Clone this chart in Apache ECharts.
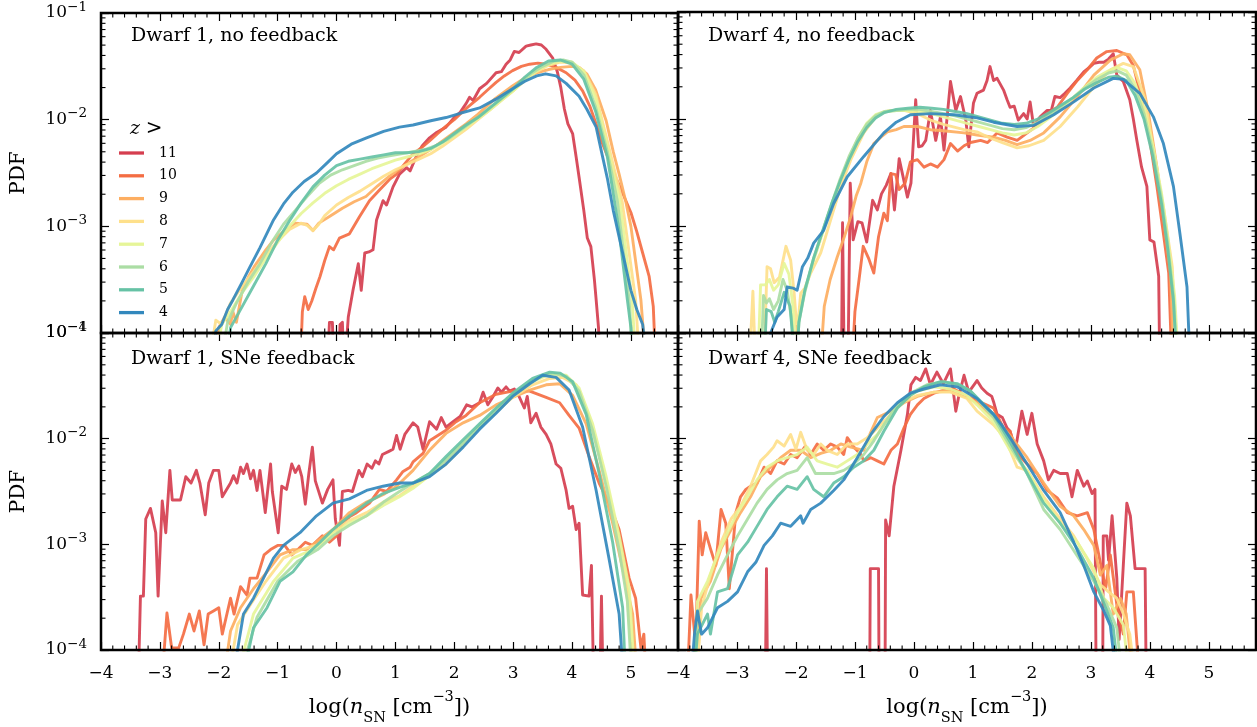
<!DOCTYPE html>
<html><head><meta charset="utf-8">
<script src="https://cdn.jsdelivr.net/npm/echarts@6/dist/echarts.min.js"></script>
<style>html,body{margin:0;padding:0;background:#fff}#c{width:1257px;height:727px}</style>
</head><body><div id="c"></div>
<script>
// ---------- data: each series is a list of [log10(n_SN), log10(PDF)] ----------
const redshiftLabels = ['11','10','9','8','7','6','5','4'];
const panelTitles = ['Dwarf 1, no feedback','Dwarf 4, no feedback','Dwarf 1, SNe feedback','Dwarf 4, SNe feedback'];
const xRange = [-4, 5.8];
const yRange = [1e-4, 1e-1];

// Dwarf 1, no feedback
const d1nf_z11 = [[-0.16,-4.4],[-0.12,-3.9],[-0.07,-3.9],[-0.04,-4.4],[0.03,-4.4],[0.06,-3.92],[0.1,-3.9],[0.13,-4.4],[0.2,-3.85],[0.28,-3.6],[0.37,-3.35],[0.42,-3.6],[0.48,-3.25],[0.55,-3.24],[0.62,-3.22],[0.68,-2.94],[0.79,-2.76],[0.85,-2.8],[0.96,-2.63],[1.07,-2.51],[1.19,-2.45],[1.25,-2.48],[1.35,-2.35],[1.45,-2.25],[1.58,-2.17],[1.7,-2.12],[1.86,-2.07],[2.0,-1.98],[2.1,-1.93],[2.2,-1.85],[2.26,-1.79],[2.32,-1.82],[2.43,-1.71],[2.55,-1.66],[2.71,-1.56],[2.8,-1.55],[2.88,-1.48],[2.95,-1.44],[3.02,-1.36],[3.1,-1.37],[3.22,-1.31],[3.3,-1.3],[3.39,-1.29],[3.48,-1.3],[3.56,-1.34],[3.67,-1.42],[3.75,-1.55],[3.81,-1.7],[3.87,-1.9],[3.93,-2.04],[4.01,-2.13],[4.07,-2.35],[4.12,-2.54],[4.2,-2.85],[4.26,-3.11],[4.32,-3.19],[4.38,-3.5],[4.41,-3.69],[4.45,-3.95],[4.48,-4.4]];
const d1nf_z10 = [[-0.62,-4.4],[-0.58,-3.8],[-0.54,-3.66],[-0.48,-3.78],[-0.42,-3.7],[-0.35,-3.58],[-0.28,-3.47],[-0.2,-3.32],[-0.12,-3.19],[-0.05,-3.22],[0.05,-3.11],[0.22,-3.07],[0.39,-2.91],[0.56,-2.76],[0.73,-2.66],[0.9,-2.56],[1.02,-2.51],[1.15,-2.42],[1.3,-2.32],[1.45,-2.26],[1.58,-2.2],[1.72,-2.13],[1.86,-2.06],[2.0,-2.0],[2.15,-1.92],[2.3,-1.85],[2.43,-1.79],[2.57,-1.72],[2.71,-1.65],[2.85,-1.59],[2.99,-1.54],[3.14,-1.5],[3.28,-1.48],[3.42,-1.47],[3.56,-1.48],[3.73,-1.51],[3.9,-1.56],[4.05,-1.63],[4.18,-1.73],[4.3,-1.87],[4.41,-2.04],[4.5,-2.2],[4.63,-2.38],[4.75,-2.55],[4.86,-2.69],[5.0,-2.87],[5.1,-3.05],[5.2,-3.25],[5.31,-3.47],[5.38,-3.75],[5.43,-4.4]];
const d1nf_z9 = [[-2.12,-4.4],[-2.0,-3.95],[-1.9,-3.85],[-1.8,-3.92],[-1.76,-3.8],[-1.7,-3.9],[-1.6,-3.6],[-1.5,-3.48],[-1.4,-3.38],[-1.3,-3.3],[-1.2,-3.22],[-1.07,-3.13],[-0.9,-3.05],[-0.7,-2.97],[-0.5,-2.98],[-0.4,-3.04],[-0.3,-2.97],[-0.1,-2.9],[0.1,-2.83],[0.3,-2.77],[0.5,-2.72],[0.7,-2.62],[0.9,-2.53],[1.1,-2.45],[1.3,-2.38],[1.6,-2.28],[1.9,-2.16],[2.2,-2.04],[2.4,-1.95],[2.7,-1.8],[3.0,-1.68],[3.2,-1.61],[3.4,-1.56],[3.6,-1.53],[3.8,-1.51],[4.0,-1.5],[4.12,-1.51],[4.25,-1.57],[4.4,-1.72],[4.58,-2.01],[4.7,-2.3],[4.8,-2.51],[4.91,-2.76],[5.0,-3.0],[5.17,-3.69],[5.27,-4.4]];
const d1nf_z8 = [[-2.2,-4.4],[-2.05,-3.88],[-1.95,-3.92],[-1.8,-3.72],[-1.6,-3.56],[-1.4,-3.42],[-1.2,-3.27],[-1.0,-3.14],[-0.8,-3.03],[-0.6,-2.97],[-0.5,-2.99],[-0.4,-3.04],[-0.3,-2.98],[-0.2,-2.9],[0.0,-2.8],[0.2,-2.73],[0.4,-2.67],[0.6,-2.6],[0.8,-2.53],[1.0,-2.47],[1.2,-2.42],[1.4,-2.37],[1.6,-2.32],[1.8,-2.25],[2.0,-2.17],[2.2,-2.09],[2.4,-2.0],[2.6,-1.91],[2.8,-1.82],[3.0,-1.73],[3.2,-1.63],[3.4,-1.55],[3.6,-1.49],[3.8,-1.46],[4.0,-1.47],[4.2,-1.54],[4.4,-1.76],[4.6,-2.2],[4.85,-2.76],[5.08,-3.69],[5.16,-4.4]];
const d1nf_z7 = [[-2.1,-4.4],[-1.95,-3.92],[-1.8,-3.8],[-1.6,-3.62],[-1.4,-3.47],[-1.2,-3.3],[-1.0,-3.15],[-0.8,-3.0],[-0.6,-2.88],[-0.4,-2.78],[-0.2,-2.69],[0.0,-2.62],[0.2,-2.56],[0.4,-2.51],[0.6,-2.46],[0.8,-2.42],[1.0,-2.38],[1.2,-2.35],[1.4,-2.32],[1.6,-2.28],[1.8,-2.22],[2.0,-2.15],[2.2,-2.07],[2.4,-1.99],[2.6,-1.91],[2.8,-1.82],[3.0,-1.73],[3.2,-1.63],[3.4,-1.54],[3.6,-1.48],[3.8,-1.45],[4.0,-1.46],[4.2,-1.55],[4.4,-1.8],[4.6,-2.25],[4.81,-2.76],[5.02,-3.69],[5.1,-4.4]];
const d1nf_z6 = [[-2.0,-4.4],[-1.85,-3.9],[-1.7,-3.72],[-1.5,-3.52],[-1.3,-3.35],[-1.1,-3.15],[-0.9,-2.98],[-0.7,-2.85],[-0.5,-2.72],[-0.3,-2.6],[-0.1,-2.52],[0.1,-2.47],[0.3,-2.43],[0.5,-2.39],[0.7,-2.36],[0.9,-2.34],[1.1,-2.32],[1.3,-2.3],[1.5,-2.28],[1.7,-2.24],[1.9,-2.18],[2.1,-2.1],[2.3,-2.02],[2.5,-1.94],[2.7,-1.85],[2.9,-1.76],[3.1,-1.67],[3.3,-1.57],[3.5,-1.5],[3.7,-1.45],[3.85,-1.44],[4.0,-1.46],[4.2,-1.58],[4.4,-1.88],[4.6,-2.3],[4.77,-2.76],[4.97,-3.69],[5.05,-4.4]];
const d1nf_z5 = [[-1.9,-4.4],[-1.8,-3.95],[-1.6,-3.75],[-1.4,-3.55],[-1.2,-3.35],[-1.0,-3.13],[-0.8,-2.95],[-0.6,-2.78],[-0.4,-2.63],[-0.2,-2.52],[0.0,-2.43],[0.2,-2.39],[0.4,-2.37],[0.6,-2.35],[0.8,-2.33],[1.0,-2.31],[1.2,-2.31],[1.4,-2.3],[1.6,-2.27],[1.8,-2.21],[2.0,-2.13],[2.2,-2.05],[2.4,-1.98],[2.6,-1.89],[2.8,-1.8],[3.0,-1.71],[3.2,-1.6],[3.4,-1.51],[3.6,-1.45],[3.8,-1.44],[4.0,-1.48],[4.2,-1.62],[4.4,-1.92],[4.6,-2.35],[4.72,-2.76],[4.8,-3.05],[4.94,-3.69],[5.0,-3.95],[5.05,-4.4]];
const d1nf_z4 = [[-2.12,-4.4],[-2.05,-3.98],[-1.95,-3.92],[-1.85,-3.78],[-1.76,-3.69],[-1.6,-3.52],[-1.47,-3.38],[-1.3,-3.2],[-1.07,-2.94],[-0.9,-2.79],[-0.74,-2.68],[-0.55,-2.58],[-0.34,-2.5],[-0.15,-2.4],[0.0,-2.32],[0.25,-2.23],[0.51,-2.17],[0.8,-2.11],[1.07,-2.07],[1.3,-2.05],[1.6,-2.01],[1.86,-1.98],[2.1,-1.94],[2.43,-1.89],[2.7,-1.81],[2.99,-1.71],[3.2,-1.64],[3.4,-1.59],[3.55,-1.57],[3.73,-1.59],[3.9,-1.66],[4.12,-1.78],[4.25,-1.9],[4.41,-2.07],[4.5,-2.3],[4.6,-2.55],[4.7,-2.85],[4.8,-3.1],[4.9,-3.35],[5.0,-3.6],[5.1,-3.78],[5.2,-3.92],[5.3,-4.4]];

// Dwarf 4, no feedback
const d4nf_z11 = [[-1.23,-4.4],[-1.21,-2.97],[-1.18,-4.4],[-1.12,-4.4],[-1.08,-2.6],[-1.03,-3.13],[-0.95,-2.96],[-0.88,-2.97],[-0.8,-3.15],[-0.7,-2.76],[-0.62,-2.85],[-0.55,-2.7],[-0.47,-2.62],[-0.39,-2.51],[-0.33,-2.85],[-0.25,-2.37],[-0.18,-2.55],[-0.11,-2.73],[-0.05,-2.6],[0.03,-1.82],[0.08,-2.26],[0.14,-2.25],[0.2,-2.2],[0.28,-1.92],[0.37,-2.2],[0.45,-1.98],[0.51,-2.29],[0.62,-1.65],[0.71,-1.92],[0.79,-1.79],[0.88,-2.01],[0.93,-2.26],[1.01,-1.85],[1.07,-1.76],[1.18,-1.73],[1.24,-1.64],[1.29,-1.51],[1.35,-1.64],[1.41,-1.62],[1.52,-1.73],[1.58,-1.82],[1.63,-1.89],[1.7,-1.88],[1.77,-2.01],[1.86,-1.95],[1.92,-2.0],[1.97,-1.84],[2.03,-2.07],[2.14,-1.98],[2.26,-1.92],[2.33,-1.92],[2.39,-1.79],[2.48,-1.8],[2.56,-1.76],[2.65,-1.71],[2.76,-1.64],[2.88,-1.56],[2.97,-1.52],[3.05,-1.48],[3.14,-1.47],[3.22,-1.47],[3.3,-1.44],[3.38,-1.39],[3.44,-1.59],[3.55,-1.65],[3.66,-1.82],[3.72,-2.0],[3.78,-2.2],[3.86,-2.45],[3.95,-2.63],[4.0,-3.13],[4.07,-3.15],[4.15,-3.47],[4.17,-4.4]];
const d4nf_z10 = [[-1.06,-4.4],[-1.0,-3.8],[-0.93,-3.5],[-0.86,-3.19],[-0.77,-3.3],[-0.68,-3.44],[-0.6,-3.1],[-0.51,-2.88],[-0.45,-2.95],[-0.39,-2.51],[-0.31,-2.52],[-0.25,-2.66],[-0.15,-2.6],[-0.06,-2.4],[0.06,-2.38],[0.17,-2.45],[0.28,-2.42],[0.4,-2.45],[0.51,-2.38],[0.62,-2.23],[0.74,-2.3],[0.85,-2.25],[0.96,-2.22],[1.13,-2.2],[1.25,-2.22],[1.41,-2.13],[1.58,-2.17],[1.75,-2.2],[1.92,-2.13],[2.14,-2.04],[2.26,-1.95],[2.43,-1.89],[2.6,-1.76],[2.77,-1.64],[2.94,-1.54],[3.1,-1.43],[3.27,-1.37],[3.44,-1.36],[3.61,-1.4],[3.72,-1.5],[3.86,-1.82],[4.0,-2.2],[4.12,-2.63],[4.23,-3.07],[4.32,-3.44],[4.38,-4.4]];
const d4nf_z9 = [[-1.6,-4.4],[-1.52,-3.75],[-1.42,-3.5],[-1.3,-3.29],[-1.18,-3.1],[-1.07,-2.91],[-0.98,-2.72],[-0.9,-2.6],[-0.8,-2.4],[-0.68,-2.23],[-0.56,-2.17],[-0.45,-2.12],[-0.3,-2.1],[-0.17,-2.07],[0.06,-2.07],[0.28,-2.1],[0.5,-2.11],[0.85,-2.13],[1.07,-2.15],[1.35,-2.17],[1.55,-2.2],[1.75,-2.24],[1.97,-2.2],[2.2,-2.13],[2.48,-1.98],[2.77,-1.79],[3.05,-1.59],[3.33,-1.45],[3.55,-1.39],[3.66,-1.4],[3.83,-1.54],[3.97,-1.92],[4.12,-2.45],[4.23,-2.91],[4.35,-3.44],[4.41,-4.4]];
const d4nf_z8 = [[-2.8,-4.4],[-2.73,-3.61],[-2.68,-4.4],[-2.55,-4.4],[-2.49,-3.38],[-2.43,-3.4],[-2.37,-3.53],[-2.28,-3.48],[-2.17,-3.19],[-2.09,-3.32],[-2.03,-3.63],[-1.98,-4.0],[-1.92,-3.63],[-1.85,-3.58],[-1.75,-3.44],[-1.58,-3.25],[-1.41,-2.94],[-1.24,-2.63],[-1.07,-2.38],[-0.85,-2.13],[-0.62,-1.96],[-0.4,-1.92],[-0.17,-1.92],[0.06,-1.95],[0.28,-2.01],[0.5,-2.05],[0.85,-2.1],[1.07,-2.12],[1.3,-2.18],[1.5,-2.22],[1.75,-2.27],[1.95,-2.25],[2.2,-2.2],[2.48,-2.07],[2.77,-1.89],[3.05,-1.7],[3.33,-1.54],[3.55,-1.48],[3.72,-1.51],[3.92,-1.82],[4.06,-2.29],[4.23,-2.82],[4.38,-3.38],[4.47,-4.4]];
const d4nf_z7 = [[-2.65,-4.4],[-2.6,-3.55],[-2.52,-3.55],[-2.45,-3.5],[-2.38,-3.6],[-2.3,-3.55],[-2.2,-3.35],[-2.12,-3.45],[-2.05,-3.75],[-2.0,-4.4],[-1.95,-3.85],[-1.85,-3.6],[-1.7,-3.32],[-1.55,-3.07],[-1.4,-2.82],[-1.25,-2.58],[-1.1,-2.36],[-0.95,-2.18],[-0.8,-2.04],[-0.65,-1.96],[-0.5,-1.93],[-0.3,-1.92],[-0.1,-1.92],[0.1,-1.93],[0.3,-1.95],[0.5,-1.98],[0.7,-2.01],[0.9,-2.04],[1.1,-2.07],[1.3,-2.1],[1.5,-2.13],[1.7,-2.15],[1.9,-2.13],[2.1,-2.07],[2.3,-1.99],[2.5,-1.9],[2.7,-1.8],[2.9,-1.7],[3.1,-1.61],[3.3,-1.55],[3.45,-1.52],[3.6,-1.55],[3.75,-1.67],[3.9,-1.9],[4.05,-2.25],[4.2,-2.7],[4.3,-3.1],[4.42,-3.65],[4.5,-4.4]];
const d4nf_z6 = [[-2.6,-4.4],[-2.55,-3.65],[-2.5,-3.72],[-2.45,-3.68],[-2.38,-3.78],[-2.3,-3.7],[-2.22,-3.5],[-2.15,-3.6],[-2.08,-3.85],[-2.0,-4.4],[-1.95,-3.9],[-1.85,-3.62],[-1.7,-3.3],[-1.55,-3.05],[-1.4,-2.8],[-1.25,-2.56],[-1.1,-2.35],[-0.95,-2.18],[-0.8,-2.05],[-0.65,-1.97],[-0.5,-1.93],[-0.3,-1.92],[-0.1,-1.91],[0.1,-1.91],[0.3,-1.93],[0.5,-1.95],[0.7,-1.97],[0.9,-2.0],[1.1,-2.03],[1.3,-2.06],[1.5,-2.09],[1.7,-2.1],[1.9,-2.08],[2.1,-2.03],[2.3,-1.96],[2.5,-1.88],[2.7,-1.8],[2.9,-1.71],[3.1,-1.63],[3.3,-1.57],[3.45,-1.55],[3.6,-1.59],[3.75,-1.72],[3.9,-1.95],[4.05,-2.3],[4.2,-2.75],[4.3,-3.15],[4.4,-3.65],[4.48,-4.4]];
const d4nf_z5 = [[-2.55,-4.4],[-2.5,-3.78],[-2.42,-3.8],[-2.36,-3.9],[-2.3,-3.8],[-2.2,-3.62],[-2.1,-3.75],[-2.0,-4.4],[-1.95,-3.9],[-1.85,-3.6],[-1.7,-3.3],[-1.55,-3.05],[-1.4,-2.8],[-1.25,-2.58],[-1.1,-2.38],[-0.95,-2.21],[-0.8,-2.08],[-0.65,-1.99],[-0.5,-1.94],[-0.3,-1.91],[-0.1,-1.9],[0.1,-1.89],[0.3,-1.9],[0.5,-1.91],[0.7,-1.93],[0.9,-1.95],[1.1,-1.98],[1.3,-2.01],[1.5,-2.04],[1.7,-2.05],[1.9,-2.04],[2.1,-2.0],[2.3,-1.94],[2.5,-1.87],[2.7,-1.8],[2.9,-1.72],[3.1,-1.66],[3.3,-1.61],[3.45,-1.6],[3.6,-1.64],[3.75,-1.78],[3.9,-2.0],[4.05,-2.35],[4.2,-2.8],[4.3,-3.2],[4.4,-3.7],[4.47,-4.4]];
const d4nf_z4 = [[-2.45,-4.4],[-2.43,-4.0],[-2.32,-3.85],[-2.2,-3.78],[-2.15,-3.57],[-2.05,-3.58],[-1.98,-3.6],[-1.89,-3.38],[-1.8,-3.3],[-1.7,-3.16],[-1.53,-3.04],[-1.36,-2.79],[-1.13,-2.54],[-0.85,-2.35],[-0.51,-2.13],[-0.3,-2.03],[-0.06,-1.96],[0.28,-1.95],[0.68,-1.96],[1.07,-1.99],[1.35,-2.03],[1.75,-2.07],[2.03,-2.06],[2.37,-1.96],[2.71,-1.84],[3.05,-1.71],[3.38,-1.62],[3.55,-1.63],[3.83,-1.76],[4.06,-1.98],[4.23,-2.23],[4.4,-2.63],[4.51,-3.07],[4.63,-3.57],[4.69,-4.4]];

// Dwarf 1, SNe feedback
const d1sn_z11 = [[-3.37,-4.4],[-3.33,-3.49],[-3.28,-3.49],[-3.24,-2.76],[-3.16,-2.66],[-3.07,-2.89],[-3.03,-3.49],[-2.96,-2.59],[-2.9,-2.89],[-2.83,-2.3],[-2.79,-2.58],[-2.65,-2.58],[-2.56,-2.36],[-2.47,-2.42],[-2.38,-2.3],[-2.32,-2.42],[-2.23,-2.72],[-2.17,-2.42],[-2.09,-2.3],[-2.0,-2.3],[-1.94,-2.55],[-1.8,-2.42],[-1.75,-2.35],[-1.69,-2.42],[-1.63,-2.27],[-1.58,-2.33],[-1.52,-2.24],[-1.46,-2.38],[-1.41,-2.3],[-1.35,-2.49],[-1.3,-2.3],[-1.21,-2.7],[-1.12,-2.24],[-1.09,-2.5],[-0.99,-2.89],[-0.93,-2.45],[-0.85,-2.48],[-0.76,-2.24],[-0.7,-2.32],[-0.64,-2.26],[-0.59,-2.36],[-0.53,-2.62],[-0.47,-2.33],[-0.41,-2.08],[-0.36,-2.4],[-0.24,-2.61],[-0.15,-2.48],[-0.06,-2.39],[-0.02,-2.76],[0.05,-3.01],[0.1,-2.5],[0.2,-2.49],[0.27,-2.5],[0.38,-2.3],[0.44,-2.36],[0.52,-2.24],[0.6,-2.28],[0.66,-2.21],[0.72,-2.24],[0.78,-2.15],[0.89,-2.12],[0.96,-2.1],[1.02,-1.97],[1.08,-2.1],[1.16,-1.96],[1.3,-1.85],[1.38,-1.89],[1.47,-2.1],[1.58,-1.84],[1.7,-1.91],[1.78,-1.8],[1.86,-1.89],[1.98,-1.84],[2.1,-1.79],[2.21,-1.68],[2.3,-1.7],[2.43,-1.66],[2.49,-1.56],[2.57,-1.68],[2.66,-1.6],[2.74,-1.52],[2.8,-1.56],[2.88,-1.51],[2.94,-1.55],[3.02,-1.53],[3.1,-1.6],[3.19,-1.71],[3.24,-1.6],[3.3,-1.85],[3.39,-1.76],[3.47,-1.89],[3.56,-1.96],[3.64,-2.05],[3.73,-2.24],[3.81,-2.28],[3.9,-2.49],[3.95,-2.66],[4.01,-2.64],[4.07,-2.86],[4.12,-2.8],[4.18,-3.48],[4.29,-3.49],[4.33,-3.2],[4.37,-4.4],[4.47,-4.4],[4.5,-3.49],[4.53,-4.4]];
const d1sn_z10 = [[-2.98,-4.4],[-2.88,-3.65],[-2.8,-3.98],[-2.68,-3.98],[-2.6,-3.85],[-2.5,-3.66],[-2.42,-3.82],[-2.33,-3.63],[-2.25,-3.95],[-2.18,-3.66],[-2.09,-3.63],[-2.0,-3.6],[-1.94,-3.85],[-1.8,-3.51],[-1.74,-3.66],[-1.63,-3.4],[-1.52,-3.48],[-1.47,-3.32],[-1.35,-3.32],[-1.23,-3.1],[-1.12,-3.05],[-1.0,-3.01],[-0.88,-3.01],[-0.76,-3.1],[-0.64,-3.04],[-0.53,-2.98],[-0.41,-3.01],[-0.24,-2.92],[-0.12,-2.98],[0.0,-2.92],[0.11,-2.8],[0.22,-2.74],[0.34,-2.7],[0.56,-2.61],[0.73,-2.48],[0.85,-2.5],[1.02,-2.39],[1.13,-2.31],[1.25,-2.27],[1.3,-2.22],[1.47,-2.14],[1.58,-2.02],[1.86,-1.92],[2.03,-1.84],[2.2,-1.78],[2.43,-1.66],[2.71,-1.58],[2.99,-1.55],[3.28,-1.55],[3.56,-1.61],[3.79,-1.66],[3.95,-1.78],[4.12,-1.9],[4.29,-2.17],[4.46,-2.42],[4.63,-2.61],[4.8,-2.86],[4.97,-3.32],[5.08,-3.51],[5.17,-3.98],[5.22,-3.85],[5.27,-4.4]];
const d1sn_z9 = [[-1.95,-4.4],[-1.8,-3.82],[-1.63,-3.6],[-1.41,-3.42],[-1.18,-3.26],[-0.96,-3.1],[-0.74,-3.05],[-0.51,-3.05],[-0.28,-2.95],[-0.06,-2.86],[0.22,-2.7],[0.51,-2.6],[0.79,-2.53],[1.02,-2.45],[1.3,-2.3],[1.58,-2.11],[1.86,-1.95],[2.15,-1.85],[2.43,-1.78],[2.71,-1.68],[2.99,-1.61],[3.28,-1.54],[3.56,-1.49],[3.79,-1.48],[4.01,-1.59],[4.24,-1.86],[4.46,-2.3],[4.69,-2.8],[4.86,-3.23],[5.03,-3.66],[5.12,-4.4]];
const d1sn_z8 = [[-1.88,-4.4],[-1.68,-3.76],[-1.46,-3.57],[-1.2,-3.35],[-0.9,-3.13],[-0.6,-3.05],[-0.3,-3.0],[-0.06,-2.88],[0.2,-2.78],[0.51,-2.7],[0.8,-2.6],[1.07,-2.54],[1.3,-2.45],[1.58,-2.35],[1.86,-2.24],[2.15,-2.07],[2.43,-1.89],[2.71,-1.75],[2.99,-1.61],[3.33,-1.49],[3.62,-1.43],[3.84,-1.42],[4.07,-1.49],[4.29,-1.8],[4.52,-2.27],[4.74,-2.8],[4.91,-3.29],[5.06,-4.4]];
const d1sn_z7 = [[-1.76,-4.4],[-1.41,-3.66],[-1.07,-3.35],[-0.74,-3.13],[-0.4,-3.05],[-0.06,-2.9],[0.22,-2.8],[0.51,-2.73],[0.8,-2.63],[1.07,-2.55],[1.3,-2.47],[1.58,-2.35],[1.86,-2.2],[2.15,-2.04],[2.43,-1.89],[2.71,-1.74],[2.99,-1.6],[3.33,-1.46],[3.62,-1.39],[3.9,-1.4],[4.12,-1.52],[4.35,-1.86],[4.58,-2.36],[4.8,-2.92],[4.97,-3.41],[5.08,-4.4]];
const d1sn_z6 = [[-1.72,-4.4],[-1.35,-3.69],[-1.0,-3.35],[-0.66,-3.16],[-0.32,-3.05],[-0.06,-2.92],[0.22,-2.82],[0.51,-2.73],[0.8,-2.6],[1.07,-2.5],[1.3,-2.42],[1.58,-2.33],[1.86,-2.2],[2.15,-2.04],[2.43,-1.89],[2.71,-1.73],[2.99,-1.58],[3.39,-1.43],[3.67,-1.38],[3.9,-1.41],[4.12,-1.55],[4.35,-1.92],[4.58,-2.45],[4.8,-3.05],[4.94,-3.54],[5.03,-4.4]];
const d1sn_z5 = [[-1.64,-4.4],[-1.41,-3.79],[-1.18,-3.6],[-0.96,-3.35],[-0.74,-3.26],[-0.51,-3.1],[-0.28,-2.98],[-0.06,-2.86],[0.22,-2.73],[0.51,-2.61],[0.79,-2.52],[1.07,-2.46],[1.3,-2.42],[1.58,-2.33],[1.86,-2.17],[2.15,-2.01],[2.43,-1.86],[2.71,-1.71],[2.99,-1.57],[3.33,-1.43],[3.62,-1.37],[3.8,-1.38],[4.01,-1.46],[4.24,-1.77],[4.46,-2.33],[4.69,-2.98],[4.86,-3.6],[4.92,-4.4]];
const d1sn_z4 = [[-1.8,-4.4],[-1.58,-3.66],[-1.41,-3.51],[-1.24,-3.32],[-1.07,-3.13],[-0.9,-3.01],[-0.62,-2.89],[-0.34,-2.73],[-0.06,-2.61],[0.22,-2.57],[0.51,-2.49],[0.79,-2.45],[1.07,-2.42],[1.3,-2.42],[1.58,-2.36],[1.86,-2.24],[2.15,-2.08],[2.43,-1.91],[2.71,-1.76],[2.99,-1.6],[3.28,-1.48],[3.5,-1.4],[3.73,-1.42],[3.95,-1.54],[4.18,-1.89],[4.41,-2.49],[4.63,-3.14],[4.8,-3.66],[4.89,-4.4]];

// Dwarf 4, SNe feedback
const d4sn_z11 = [[-2.52,-4.4],[-2.5,-3.23],[-2.48,-4.4],[-0.75,-4.4],[-0.74,-3.23],[-0.6,-3.23],[-0.59,-4.4],[-0.49,-4.4],[-0.48,-2.77],[-0.42,-2.92],[-0.34,-2.45],[-0.22,-2.11],[-0.11,-1.77],[-0.05,-1.49],[0.03,-1.42],[0.11,-1.45],[0.2,-1.34],[0.28,-1.49],[0.39,-1.37],[0.5,-1.48],[0.62,-1.34],[0.71,-1.74],[0.76,-1.6],[0.85,-1.4],[0.93,-1.56],[1.07,-1.45],[1.15,-1.52],[1.24,-1.57],[1.32,-1.6],[1.35,-1.65],[1.41,-1.77],[1.5,-1.8],[1.58,-1.9],[1.63,-1.93],[1.72,-2.11],[1.83,-1.74],[1.92,-1.96],[2.0,-1.76],[2.09,-2.05],[2.2,-2.21],[2.28,-2.39],[2.37,-2.3],[2.48,-2.33],[2.6,-2.33],[2.68,-2.55],[2.77,-2.3],[2.88,-2.45],[2.94,-2.4],[3.02,-2.52],[3.07,-2.48],[3.09,-4.4],[3.2,-4.4],[3.21,-2.92],[3.27,-2.92],[3.3,-3.15],[3.36,-2.73],[3.44,-3.32],[3.48,-3.9],[3.55,-3.2],[3.61,-2.61],[3.67,-2.73],[3.75,-3.23],[3.92,-3.23],[3.94,-4.4]];
const d4sn_z10 = [[-3.85,-4.4],[-3.78,-3.48],[-3.7,-3.95],[-3.64,-2.78],[-3.59,-3.1],[-3.53,-2.89],[-3.45,-3.04],[-3.36,-3.2],[-3.27,-2.67],[-3.19,-2.8],[-3.13,-3.42],[-3.02,-2.7],[-2.94,-2.55],[-2.85,-2.48],[-2.77,-2.45],[-2.66,-2.42],[-2.54,-2.27],[-2.43,-2.33],[-2.32,-2.21],[-2.2,-2.24],[-2.09,-2.15],[-1.98,-2.18],[-1.84,-2.07],[-1.75,-2.15],[-1.64,-2.05],[-1.53,-2.11],[-1.41,-2.05],[-1.3,-2.08],[-1.19,-2.15],[-1.13,-1.99],[-1.02,-2.08],[-0.9,-2.15],[-0.85,-2.21],[-0.73,-2.18],[-0.62,-2.21],[-0.51,-2.24],[-0.39,-2.11],[-0.28,-2.05],[-0.17,-1.9],[-0.06,-1.77],[0.06,-1.68],[0.17,-1.62],[0.34,-1.57],[0.51,-1.54],[0.68,-1.53],[0.9,-1.6],[1.07,-1.64],[1.35,-1.71],[1.52,-1.9],[1.63,-1.93],[1.75,-2.14],[1.92,-2.24],[2.09,-2.33],[2.26,-2.49],[2.43,-2.56],[2.6,-2.7],[2.77,-2.73],[2.94,-2.7],[3.05,-2.86],[3.16,-3.17],[3.25,-3.42],[3.33,-3.1],[3.44,-3.57],[3.55,-3.85],[3.61,-3.45],[3.72,-3.45],[3.84,-4.4]];
const d4sn_z9 = [[-3.8,-4.4],[-3.61,-3.51],[-3.45,-3.35],[-3.27,-3.04],[-3.1,-2.86],[-2.94,-2.7],[-2.77,-2.55],[-2.6,-2.36],[-2.43,-2.27],[-2.26,-2.18],[-2.09,-2.11],[-1.92,-2.11],[-1.75,-2.18],[-1.58,-2.14],[-1.41,-2.11],[-1.24,-2.05],[-1.07,-2.08],[-0.85,-2.11],[-0.74,-1.95],[-0.62,-1.8],[-0.39,-1.74],[-0.17,-1.66],[0.06,-1.6],[0.34,-1.56],[0.62,-1.55],[0.9,-1.61],[1.07,-1.66],[1.35,-1.8],[1.63,-1.97],[1.92,-2.18],[2.2,-2.42],[2.48,-2.64],[2.71,-2.73],[2.88,-2.86],[3.05,-3.01],[3.16,-3.29],[3.27,-3.2],[3.38,-3.66],[3.5,-3.51],[3.6,-3.66],[3.73,-4.4]];
const d4sn_z8 = [[-3.7,-4.4],[-3.6,-3.6],[-3.45,-3.29],[-3.27,-2.98],[-3.1,-2.76],[-2.94,-2.64],[-2.77,-2.45],[-2.6,-2.21],[-2.49,-2.15],[-2.38,-2.08],[-2.32,-2.02],[-2.2,-2.07],[-2.09,-1.96],[-2.0,-2.1],[-1.92,-1.94],[-1.81,-2.11],[-1.7,-2.15],[-1.58,-2.05],[-1.47,-2.11],[-1.3,-2.15],[-1.13,-2.05],[-0.96,-2.05],[-0.79,-1.99],[-0.62,-1.9],[-0.39,-1.77],[-0.17,-1.65],[0.06,-1.59],[0.34,-1.56],[0.62,-1.56],[0.9,-1.62],[1.07,-1.74],[1.35,-1.87],[1.55,-2.0],[1.75,-2.27],[1.92,-2.3],[2.2,-2.55],[2.48,-2.76],[2.71,-2.92],[2.94,-3.14],[3.16,-3.38],[3.3,-3.45],[3.44,-3.51],[3.55,-3.66],[3.66,-3.85],[3.78,-4.4]];
const d4sn_z7 = [[-3.75,-4.4],[-3.67,-3.54],[-3.5,-3.35],[-3.33,-3.1],[-3.16,-2.89],[-2.99,-2.7],[-2.82,-2.55],[-2.66,-2.39],[-2.49,-2.27],[-2.32,-2.21],[-2.15,-2.18],[-1.98,-2.15],[-1.81,-2.08],[-1.64,-2.21],[-1.47,-2.24],[-1.3,-2.27],[-1.13,-2.21],[-0.96,-2.15],[-0.79,-2.05],[-0.62,-1.96],[-0.39,-1.77],[-0.17,-1.62],[0.06,-1.55],[0.34,-1.51],[0.62,-1.53],[0.9,-1.59],[1.07,-1.68],[1.35,-1.84],[1.63,-2.11],[1.92,-2.3],[2.2,-2.58],[2.48,-2.8],[2.77,-2.98],[3.05,-3.23],[3.22,-3.51],[3.38,-3.6],[3.55,-3.76],[3.68,-4.4]];
const d4sn_z6 = [[-3.75,-4.4],[-3.67,-3.66],[-3.5,-3.51],[-3.33,-3.29],[-3.16,-3.1],[-2.99,-2.92],[-2.82,-2.76],[-2.66,-2.61],[-2.49,-2.48],[-2.32,-2.39],[-2.15,-2.33],[-1.98,-2.3],[-1.81,-2.18],[-1.67,-2.33],[-1.53,-2.33],[-1.36,-2.33],[-1.19,-2.3],[-1.02,-2.24],[-0.85,-2.15],[-0.68,-2.02],[-0.51,-1.87],[-0.28,-1.68],[-0.06,-1.57],[0.22,-1.49],[0.51,-1.46],[0.8,-1.5],[0.96,-1.55],[1.35,-1.8],[1.63,-2.07],[1.92,-2.33],[2.2,-2.67],[2.48,-2.86],[2.77,-3.11],[3.05,-3.35],[3.27,-3.57],[3.44,-3.79],[3.56,-4.4]];
const d4sn_z5 = [[-3.75,-4.4],[-3.67,-3.85],[-3.5,-3.66],[-3.45,-3.85],[-3.33,-3.45],[-3.16,-3.42],[-2.99,-3.1],[-2.82,-2.98],[-2.66,-2.83],[-2.49,-2.67],[-2.32,-2.55],[-2.15,-2.45],[-1.98,-2.48],[-1.81,-2.36],[-1.7,-2.48],[-1.53,-2.55],[-1.36,-2.42],[-1.19,-2.36],[-1.02,-2.27],[-0.85,-2.21],[-0.68,-2.11],[-0.51,-1.93],[-0.28,-1.71],[-0.06,-1.59],[0.17,-1.51],[0.45,-1.46],[0.74,-1.48],[0.96,-1.55],[1.35,-1.77],[1.63,-2.03],[1.92,-2.33],[2.2,-2.61],[2.48,-2.8],[2.77,-3.04],[3.05,-3.32],[3.27,-3.63],[3.38,-3.79],[3.5,-4.4]];
const d4sn_z4 = [[-3.8,-4.4],[-3.72,-3.85],[-3.67,-3.63],[-3.6,-3.85],[-3.5,-3.79],[-3.33,-3.6],[-3.16,-3.54],[-2.99,-3.45],[-2.82,-3.26],[-2.68,-3.17],[-2.54,-3.01],[-2.4,-2.92],[-2.26,-2.8],[-2.09,-2.83],[-1.92,-2.73],[-1.88,-2.8],[-1.75,-2.67],[-1.58,-2.61],[-1.36,-2.49],[-1.19,-2.39],[-0.96,-2.18],[-0.73,-1.96],[-0.51,-1.79],[-0.28,-1.66],[-0.06,-1.57],[0.17,-1.53],[0.45,-1.49],[0.74,-1.51],[1.07,-1.62],[1.35,-1.77],[1.5,-1.88],[1.63,-1.99],[1.92,-2.24],[2.2,-2.49],[2.48,-2.7],[2.71,-2.98],[2.88,-3.2],[3.05,-3.45],[3.22,-3.63],[3.33,-3.77],[3.46,-4.4]];

const panelSeries = [
  [d1nf_z11,d1nf_z10,d1nf_z9,d1nf_z8,d1nf_z7,d1nf_z6,d1nf_z5,d1nf_z4],
  [d4nf_z11,d4nf_z10,d4nf_z9,d4nf_z8,d4nf_z7,d4nf_z6,d4nf_z5,d4nf_z4],
  [d1sn_z11,d1sn_z10,d1sn_z9,d1sn_z8,d1sn_z7,d1sn_z6,d1sn_z5,d1sn_z4],
  [d4sn_z11,d4sn_z10,d4sn_z9,d4sn_z8,d4sn_z7,d4sn_z6,d4sn_z5,d4sn_z4]
];

// ---------- styling / layout ----------
const colors = ['#d53e4f','#f46d43','#fdae61','#fee08b','#e6f598','#abdda4','#66c2a5','#3288bd'];
const SERIF = 'DejaVu Serif';
const grids = [
  {left:101, top:12, width:577, height:321},
  {left:678, top:12, width:578, height:321},
  {left:101, top:333, width:577, height:323},
  {left:678, top:333, width:578, height:323}
];
const titlePos = [[131,27],[708,27],[131,350],[708,350]];

// minor tick positions (decorations)
const yMinorTicks = [];
for (let e = -4; e < -1; e++) for (let m = 2; m <= 9; m++) yMinorTicks.push(m * Math.pow(10, e));
const xMinorTicks = [];
for (let k = -19; k < 29; k++) if (k % 5 !== 0) xMinorTicks.push(k / 5);

const chart = echarts.init(document.getElementById('c'), null, {renderer:'canvas'});

const xAxes = [], yAxes = [], series = [];
const tickStyle = {color:'#000', width:1.2};
const xLabelFmt = v => (v < 0 ? '\u2212' + (-v) : String(v));
const yLabelFmt = v => { const e = Math.round(Math.log10(v)); return '{b|10}{s|' + (e < 0 ? '\u2212' : '') + Math.abs(e) + '}'; };

for (let g = 0; g < 4; g++) {
  const isBottom = g >= 2, isLeft = g % 2 === 0;
  xAxes[g] = {
    type:'value', gridIndex:g, min:xRange[0], max:xRange[1], interval:1, position:'bottom',
    axisLine:{show:false, onZero:false}, splitLine:{show:false},
    axisTick:{show:true, inside:true, length:8, lineStyle:tickStyle},
    axisLabel:{show:isBottom, showMaxLabel:false, formatter:xLabelFmt, fontFamily:SERIF, fontSize:17, color:'#000', margin:15},
    name: isBottom ? '{r|log(}{i|n}{sub|SN}{r| [cm}{sup|\u22123}{r|])}' : '',
    nameLocation:'middle', nameGap:40,
    nameTextStyle:{fontFamily:SERIF, color:'#000', rich:{
      r:{fontFamily:SERIF, fontSize:21, lineHeight:36, color:'#000'},
      i:{fontFamily:SERIF, fontSize:21, fontStyle:'italic', lineHeight:36, color:'#000'},
      sub:{fontFamily:SERIF, fontSize:14.5, lineHeight:30, verticalAlign:'bottom', color:'#000'},
      sup:{fontFamily:SERIF, fontSize:14.5, lineHeight:15, verticalAlign:'top', color:'#000'}
    }}
  };
  xAxes[g + 4] = {
    type:'value', gridIndex:g, min:xRange[0], max:xRange[1], interval:1, position:'top',
    axisLine:{show:false, onZero:false}, splitLine:{show:false}, axisLabel:{show:false},
    axisTick:{show:true, inside:true, length:8, lineStyle:tickStyle}
  };
  yAxes[g] = {
    type:'log', logBase:10, gridIndex:g, min:yRange[0], max:yRange[1], position:'left',
    axisLine:{show:false, onZero:false}, splitLine:{show:false}, minorTick:{show:false},
    axisTick:{show:true, inside:true, length:8, lineStyle:tickStyle},
    axisLabel:{show:isLeft, formatter:yLabelFmt, margin:14, rich:{
      b:{fontFamily:SERIF, fontSize:17, lineHeight:26, color:'#000'},
      s:{fontFamily:SERIF, fontSize:13.5, lineHeight:13, verticalAlign:'top', color:'#000'}
    }},
    name: isLeft ? 'PDF' : '', nameLocation:'middle', nameRotate:90, nameGap:72,
    nameTextStyle:{fontFamily:SERIF, fontSize:20, color:'#000'}
  };
  yAxes[g + 4] = {
    type:'log', logBase:10, gridIndex:g, min:yRange[0], max:yRange[1], position:'right',
    axisLine:{show:false, onZero:false}, splitLine:{show:false}, axisLabel:{show:false},
    axisTick:{show:true, inside:true, length:8, lineStyle:tickStyle}
  };

  panelSeries[g].forEach((pts, k) => {
    series.push({
      type:'line', name:redshiftLabels[k], xAxisIndex:g, yAxisIndex:g,
      data: pts.map(p => [p[0], Math.pow(10, p[1])]),
      showSymbol:false, symbol:'none', clip:true, silent:true, z:2,
      lineStyle:{color:colors[k], width:2.9, opacity:0.92, join:'round'},
      itemStyle:{color:colors[k]}
    });
  });

  // minor ticks on the y axes (left + right edge)
  series.push({
    type:'custom', xAxisIndex:g, yAxisIndex:g, silent:true, z:6, clip:false,
    data: yMinorTicks.map(v => [xRange[0], v]),
    renderItem:(params, api) => {
      const v = api.value(1);
      const a = api.coord([xRange[0], v]), b = api.coord([xRange[1], v]);
      return {type:'group', children:[
        {type:'line', shape:{x1:a[0], y1:a[1], x2:a[0] + 4.5, y2:a[1]}, style:{stroke:'#000', lineWidth:1.1}},
        {type:'line', shape:{x1:b[0] - 4.5, y1:b[1], x2:b[0], y2:b[1]}, style:{stroke:'#000', lineWidth:1.1}}
      ]};
    }
  });
  // minor ticks on the x axes (bottom + top edge)
  series.push({
    type:'custom', xAxisIndex:g, yAxisIndex:g, silent:true, z:6, clip:false,
    data: xMinorTicks.map(x => [x, 1e-3]),
    renderItem:(params, api) => {
      const x = api.value(0);
      const a = api.coord([x, yRange[0]]), b = api.coord([x, yRange[1]]);
      return {type:'group', children:[
        {type:'line', shape:{x1:a[0], y1:a[1], x2:a[0], y2:a[1] - 4.5}, style:{stroke:'#000', lineWidth:1.1}},
        {type:'line', shape:{x1:b[0], y1:b[1], x2:b[0], y2:b[1] + 4.5}, style:{stroke:'#000', lineWidth:1.1}}
      ]};
    }
  });
}

const titles = panelTitles.map((t, i) => ({
  text:t, left:titlePos[i][0], top:titlePos[i][1], padding:0,
  textStyle:{fontFamily:SERIF, fontSize:19, fontWeight:'normal', color:'#000'}
}));
titles.push({
  text:'{i|z} {r|>}', left:130, top:119, padding:0,
  textStyle:{fontFamily:SERIF, fontWeight:'normal', color:'#000', rich:{
    i:{fontFamily:SERIF, fontSize:19, fontStyle:'italic', color:'#000'},
    r:{fontFamily:SERIF, fontSize:20, color:'#000'}
  }}
});

chart.setOption({
  animation:false,
  backgroundColor:'#fff',
  textStyle:{fontFamily:SERIF},
  title:titles,
  legend:{
    data:redshiftLabels, orient:'vertical', left:119, top:145, padding:0,
    itemWidth:25, itemHeight:3.3, itemGap:6.8, icon:'rect', selectedMode:false,
    itemStyle:{borderWidth:0},
    textStyle:{fontFamily:SERIF, fontSize:14, color:'#000', lineHeight:16, padding:[0,0,0,10]}
  },
  grid: grids.map(gr => Object.assign({show:true, borderColor:'#000', borderWidth:2.5, backgroundColor:'transparent', z:10}, gr)),
  xAxis:xAxes,
  yAxis:yAxes,
  series:series
});
</script></body></html>
